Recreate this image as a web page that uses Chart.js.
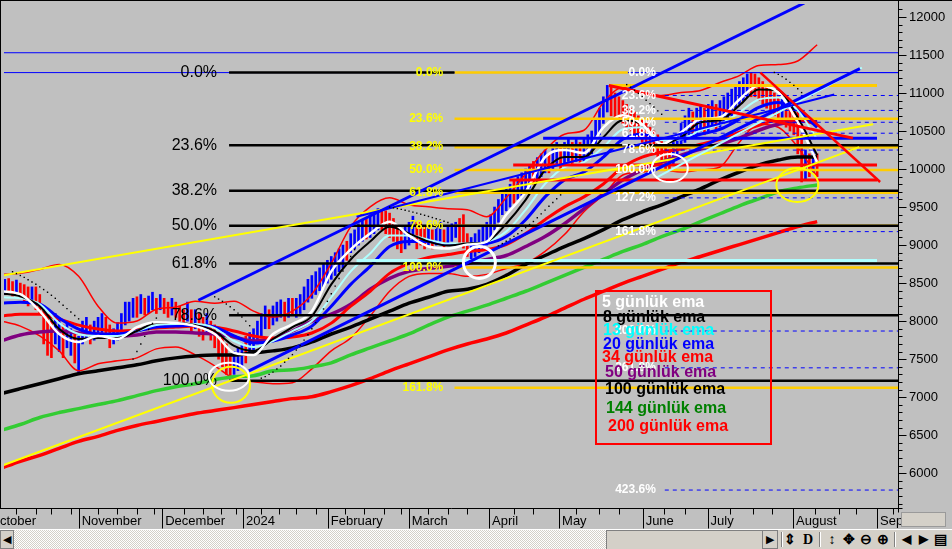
<!DOCTYPE html>
<html lang="tr">
<head>
<meta charset="UTF-8">
<title>BIST 100 - günlük ema</title>
<script src="https://cdn.jsdelivr.net/npm/chart.js@4.4.1/dist/chart.umd.min.js"></script>
<style>
  html, body { margin: 0; padding: 0; background: #c0c0c0; }
  #wrap { position: relative; width: 952px; height: 549px; overflow: hidden; background: #c0c0c0;
          font-family: "Liberation Sans", Arial, sans-serif; }
  #chart { position: absolute; left: 0; top: 0; }
  #legend { position: absolute; left: 595px; top: 290px; width: 177px; height: 155px;
            box-sizing: border-box; border: 2px solid #ff0000; }
  #legend div { position: absolute; font-weight: bold; font-size: 16px; line-height: 18px; white-space: nowrap; }
  #xbox { position: absolute; left: 901px; top: 512px; width: 45px; height: 15px; box-sizing: border-box;
          background: #d4d0c8; border: 1px solid #9a9a9a; }
  #strip { position: absolute; left: 0; top: 529px; width: 952px; height: 20px; background: #d4d0c8;
           border-top: 1px solid #ffffff; box-sizing: border-box; }
  #strip > div { position: absolute; top: 0; height: 19px; box-sizing: border-box; }
  .btn { background: #d4d0c8; border: 1px solid #808080; font-size: 11px; line-height: 17px; text-align: center; }
  #dither { background-image: repeating-conic-gradient(#ffffff 0 25%, #d4d0c8 0 50%); background-size: 2px 2px; }
  #slot { background: #d4d0c8; border-top: 1px solid #808080; border-left: 1px solid #808080; }
  #tools span { position: absolute; top: 0; width: 16px; text-align: center; font-size: 14px; line-height: 19px;
                font-weight: bold; color: #000; }
  #tools i { position: absolute; top: 2px; width: 1px; height: 15px; background: #808080; border-right: 1px solid #fff; }
</style>
</head>
<body>
<div id="wrap">
  <canvas id="chart" width="952" height="530"></canvas>
  <div id="legend">
    <div style="left:5px; top:1px; color:#ffffff">5 günlük ema</div>
    <div style="left:6px; top:16px; color:#000000">8 günlük ema</div>
    <div style="left:6px; top:29px; color:#00ffff">13 günlük ema</div>
    <div style="left:6px; top:43px; color:#0000ff">20 günlük ema</div>
    <div style="left:5px; top:56px; color:#ff0000">34 günlük ema</div>
    <div style="left:8px; top:71px; color:#800080">50 günlük ema</div>
    <div style="left:8px; top:88px; color:#000000">100 günlük ema</div>
    <div style="left:9px; top:107px; color:#008000">144 günlük ema</div>
    <div style="left:11px; top:125px; color:#ff0000">200 günlük ema</div>
  </div>
  <div id="xbox"></div>
  <div id="strip">
    <div class="btn" style="left:0; width:14px">◀</div>
    <div id="dither" style="left:14px; width:592px"></div>
    <div id="slot" style="left:606px; width:156px"></div>
    <div class="btn" style="left:762px; width:16px">▶</div>
    <div id="tools" style="left:778px; width:174px">
      <i style="left:3px"></i>
      <span style="left:4px">⇕</span>
      <span style="left:22px; font-family:'Liberation Serif', serif">D</span>
      <i style="left:41px"></i>
      <span style="left:46px">↕</span>
      <span style="left:63px">✥</span>
      <span style="left:80px">⊖</span>
      <span style="left:97px">⊕</span>
      <i style="left:116px"></i>
      <span style="left:120px; font-size:12px">◀</span>
      <span style="left:137px; font-size:12px">▶</span>
      <span style="left:154px">▤</span>
    </div>
  </div>
</div>

<script>
// x ekseni: işlem günü sırası, 0 = 1 Kasım 2023
const X_MIN = -19.2, X_MAX = 210.8;
const Y_MIN = 5543, Y_MAX = 12170;

const monthDays = [-23.6, 0, 21.5, 42.3, 64.1, 84.9, 105.6, 123.6, 145.1, 161.8, 183.8, 205.4];
const monthLabels = ['October', 'November', 'December', '2024', 'February', 'March', 'April', 'May',
  'June', 'July', 'August', 'September'];
const weekDays = [-16, -11, -7, -2, 5, 10, 15, 19.5, 27, 32, 36.5, 40.5, 47, 51.5, 56, 61, 68.5, 73.5,
  78.5, 83, 90, 95, 100, 112, 117, 128, 134, 139, 150.5, 156, 167.5, 173.5, 178.5, 189.5, 195.5, 200, 209.5];
const priceTicks = [6000, 6500, 7000, 7500, 8000, 8500, 9000, 9500, 10000, 10500, 11000, 11500, 12000];

// günlük barlar (düşük / yüksek), u = yükselen, d = düşen
const firstBarDay = -19;
const barLow = [
  8350, 8380, 8330, 8360, 8300, 8250, 8200, 8250, 8150, 8100,
  7700, 7550, 7520, 7700, 7600, 7520, 7650, 7550, 7450, 7310,
  7700, 7750, 7700, 7750, 7800, 7850, 7800, 7650, 7700, 7750,
  7850, 7950, 8000, 8050, 8050, 8100, 8080, 8100, 8150, 8100,
  8150, 8100, 8050, 8080, 8050, 8000, 7950, 8000, 7850, 7900,
  7800, 7750, 7850, 7750, 7650, 7500, 7400, 7300, 7250, 7300,
  7350, 7400, 7450, 7550, 7600, 7700, 7800, 7900, 7900, 7950,
  8000, 8050, 8000, 8050, 8080, 8050, 8100, 8150, 8250, 8300,
  8350, 8400, 8450, 8500, 8550, 8600, 8650, 8700, 8800, 8900,
  8950, 9000, 9050, 9080, 9100, 9150, 9200, 9200, 9150, 9100,
  9050, 8950, 8900, 8950, 9000, 9050, 8950, 9000, 8950, 9000,
  8950, 9000, 9050, 8950, 9000, 9050, 9100, 9000, 8960, 8850,
  8800, 8850, 8900, 8950, 9000, 9100, 9200, 9300, 9400, 9450,
  9500, 9550, 9600, 9650, 9700, 9750, 9800, 9850, 9900, 9950,
  9950, 10000, 10050, 10000, 10050, 10100, 10050, 10100, 10050, 10100,
  10150, 10200, 10300, 10450, 10600, 10750, 10700, 10650, 10650, 10600,
  10550, 10500, 10450, 10400, 10350, 10300, 10250, 10200, 10150, 10100,
  10000, 9980, 10050, 10150, 10250, 10350, 10450, 10400, 10450, 10500,
  10450, 10500, 10550, 10500, 10550, 10600, 10650, 10700, 10800, 10850,
  10900, 10950, 10950, 10950, 10900, 10850, 10800, 10750, 10700, 10650,
  10600, 10550, 10500, 10450, 10200, 9830, 9850, 9900, 9950, 9900
];
const barHigh = [
  8550, 8560, 8520, 8540, 8500, 8480, 8450, 8450, 8450, 8350,
  8150, 8050, 8000, 8100, 8050, 7950, 8000, 7900, 7850, 7800,
  8000, 8050, 7950, 8000, 8050, 8100, 8050, 7950, 7900, 7980,
  8100, 8250, 8250, 8300, 8320, 8350, 8300, 8330, 8380, 8300,
  8350, 8300, 8250, 8300, 8250, 8200, 8150, 8250, 8150, 8150,
  8100, 8050, 8100, 8000, 7950, 7850, 7800, 7700, 7550, 7600,
  7650, 7700, 7800, 7850, 7900, 8000, 8100, 8200, 8150, 8200,
  8250, 8280, 8250, 8300, 8300, 8300, 8350, 8450, 8550, 8600,
  8650, 8700, 8750, 8800, 8850, 8900, 8950, 9000, 9050, 9150,
  9200, 9280, 9330, 9350, 9400, 9450, 9480, 9470, 9450, 9420,
  9350, 9250, 9200, 9250, 9300, 9380, 9300, 9300, 9250, 9250,
  9200, 9250, 9300, 9200, 9250, 9280, 9300, 9350, 9400, 9150,
  9100, 9150, 9200, 9250, 9300, 9400, 9500, 9600, 9700, 9750,
  9800, 9850, 9900, 9950, 10000, 10050, 10100, 10150, 10200, 10250,
  10200, 10300, 10350, 10300, 10350, 10400, 10350, 10400, 10350, 10400,
  10450, 10500, 10650, 10800, 10950, 11100, 11100, 11000, 10950, 10900,
  10850, 10800, 10750, 10700, 10650, 10600, 10550, 10500, 10450, 10400,
  10300, 10250, 10350, 10450, 10600, 10700, 10800, 10750, 10800, 10850,
  10800, 10850, 10900, 10850, 10900, 10950, 11000, 11050, 11100, 11150,
  11200, 11250, 11260, 11250, 11200, 11150, 11100, 11050, 11000, 10950,
  10950, 10900, 10850, 10800, 10750, 10450, 10250, 10200, 10250, 10200
];
const barDir = 'uddudddudd' + 'ddduuduudu' + 'uuduuudduu' + 'uuuududuud' + 'uddudddudu' +
  'dduddddddu' + 'uuduuuuudu' + 'uududuuuuu' + 'uuuuuuuudu' + 'uuuduuuddd' +
  'ddduuudddu' + 'duuduuuddd' + 'uuuuuuuuuu' + 'uduuuuduuu' + 'duuduududu' +
  'uuuuuudddd' + 'dddddddddd' + 'dduuuuuduu' + 'duuduuuuuu' + 'uudddddddd' + 'udddddudud';

// üstel hareketli ortalamalar ve bantlar, 5 günde bir okunan değerler
const sampleDays = [-20, -15, -10, -5, 0, 5, 10, 15, 20, 25, 30, 35, 40, 45, 50, 55, 60, 65, 70, 75,
  80, 85, 90, 95, 100, 105, 110, 115, 120, 125, 130, 135, 140, 145, 150, 155, 160, 165, 170, 175,
  180, 185, 190];
const ema5 = [8393, 8354, 8131, 7831, 7726, 7805, 7765, 7922, 7987, 7974, 7935, 7831, 7583, 7556, 7831,
  7961, 8131, 8654, 8942, 9151, 9308, 9125, 8981, 8955, 9007, 9046, 9399, 9700, 10157, 10249, 10210,
  10549, 10706, 10588, 10327, 10484, 10654, 10680, 10915, 11098, 11007, 10615, 10092];
const ema8 = [8367, 8327, 8197, 7896, 7765, 7778, 7778, 7870, 7974, 7974, 7948, 7870, 7674, 7609, 7765,
  7922, 8066, 8484, 8811, 9046, 9242, 9151, 9046, 8994, 9020, 9046, 9281, 9595, 9987, 10157, 10157,
  10419, 10641, 10588, 10327, 10419, 10615, 10641, 10837, 11046, 11033, 10680, 10183];
const ema13 = [8314, 8301, 8223, 7974, 7831, 7805, 7805, 7870, 7948, 7961, 7961, 7909, 7739, 7661, 7739,
  7870, 8001, 8314, 8654, 8889, 9125, 9125, 9072, 9020, 9020, 9046, 9177, 9464, 9804, 10026, 10092,
  10288, 10523, 10549, 10379, 10392, 10510, 10588, 10745, 10915, 10941, 10772, 10392];
const ema20 = [8236, 8249, 8223, 8040, 7896, 7831, 7831, 7870, 7922, 7935, 7948, 7922, 7805, 7713, 7739,
  7818, 7935, 8197, 8484, 8720, 8981, 9046, 9046, 9007, 9007, 9020, 9112, 9334, 9634, 9857, 9961,
  10157, 10392, 10458, 10392, 10392, 10458, 10523, 10654, 10811, 10876, 10772, 10549];
const ema34 = [8066, 8092, 8092, 8027, 7948, 7896, 7870, 7883, 7909, 7922, 7935, 7922, 7870, 7805, 7778,
  7791, 7844, 7974, 8197, 8393, 8628, 8759, 8837, 8876, 8916, 8942, 9007, 9151, 9334, 9503, 9634,
  9804, 10026, 10157, 10223, 10262, 10327, 10392, 10484, 10575, 10641, 10641, 10588];
const ema50 = [7739, 7818, 7857, 7870, 7844, 7831, 7805, 7818, 7857, 7857, 7844, 7831, 7791, 7739, 7765,
  7870, 8001, 8092, 8223, 8419, 8563, 8654, 8693, 8720, 8759, 8811, 8863, 8981, 9112, 9281, 9477,
  9674, 9857, 9987, 10092, 10183, 10262, 10327, 10406, 10510, 10588, 10628, 10641];
const ema100 = [7047, 7112, 7177, 7243, 7308, 7347, 7386, 7426, 7478, 7517, 7543, 7556, 7556, 7583, 7609,
  7648, 7726, 7831, 7922, 8027, 8131, 8236, 8314, 8393, 8419, 8484, 8602, 8746, 8863, 8981, 9085,
  9203, 9334, 9438, 9530, 9634, 9739, 9857, 9961, 10053, 10118, 10157, 10157];
const ema144 = [6563, 6641, 6733, 6798, 6850, 6903, 6955, 7020, 7086, 7138, 7177, 7230, 7269, 7282, 7347,
  7360, 7400, 7452, 7556, 7648, 7739, 7831, 7948, 8053, 8131, 8210, 8301, 8393, 8497, 8602, 8706,
  8811, 8916, 9007, 9112, 9203, 9308, 9412, 9517, 9608, 9700, 9752, 9791];
const ema200 = [6066, 6158, 6236, 6328, 6419, 6485, 6563, 6628, 6681, 6733, 6785, 6824, 6863, 6903, 6942,
  6981, 7007, 7073, 7151, 7243, 7347, 7439, 7530, 7622, 7700, 7765, 7844, 7948, 8053, 8171, 8288,
  8393, 8497, 8589, 8680, 8772, 8850, 8929, 9007, 9085, 9164, 9242, 9308];
const bandUp = [8615, 8628, 8680, 8746, 8589, 8197, 7974, 8001, 8157, 8184, 8262, 8236, 8262, 8131, 8053,
  8131, 8354, 8759, 9242, 9503, 9621, 9530, 9503, 9477, 9464, 9373, 9621, 9935, 10249, 10458, 10510,
  10876, 11072, 11007, 10968, 11007, 11033, 11137, 11229, 11360, 11373, 11420, 11634];
const bandDown = [8001, 7935, 7805, 7609, 7347, 7439, 7478, 7517, 7635, 7661, 7556, 7413, 7243, 7203, 7177,
  7190, 7373, 7609, 7778, 8066, 8393, 8589, 8628, 8628, 8589, 8615, 8693, 8759, 8916, 9138, 9438,
  9661, 9922, 9961, 9987, 9961, 9987, 10026, 10353, 10588, 10549, 10288, 9896];

// parabolik SAR noktaları (parça başlangıç günü + değerler)
const sarStart = [-17, 14, 35, 47, 80, 108, 141, 179];
const sarVals = [
  [8650, 8625, 8600, 8575, 8545, 8515, 8485, 8450, 8415, 8380, 8340, 8300, 8255, 8210, 8165, 8120, 8075, 8030],
  [7500, 7600, 7700, 7800, 7890, 7970, 8040],
  [8320, 8290, 8260, 8225, 8190, 8150, 8105, 8055, 8000, 7940],
  [7250, 7270, 7300, 7330, 7370, 7410, 7460, 7510, 7560, 7620, 7680, 7750, 7820, 7900, 7980, 8070, 8160,
   8260, 8360, 8460, 8560, 8660, 8760, 8850, 8940],
  [9500, 9490, 9480, 9470, 9458, 9446, 9433, 9420, 9406, 9392, 9377, 9362, 9346, 9330, 9313, 9296],
  [8990, 9020, 9050, 9080, 9115, 9150, 9190, 9230, 9270, 9310, 9360, 9410, 9460, 9510, 9560, 9610, 9660],
  [11110, 11075, 11035, 10995, 10950, 10905, 10860, 10815, 10765, 10720],
  [11270, 11245, 11215, 11180, 11140, 11100, 11055, 11005]
];

// trend çizgileri [gün, değer]
const trendBlueUp = [[30.8, 8275], [186.7, 12183]];
const trendBlueLow = [[43.8, 7347], [201.0, 11320]];
const trendBlueMid = [[71.5, 9373], [194.4, 10981]];
const trendCyan = [[148.5, 9883], [201.5, 11333]];
const trendYellowUp = [[-19.5, 8602], [204.4, 10588]];
const trendYellowLow = [[-19.5, 6105], [200.8, 10288]];
const trendRedA = [[136.4, 11098], [199.2, 10406]];
const trendRedB = [[175.4, 11268], [206.2, 9830]];

// yatay seviyeler
const refLevels = [11529, 11268];
const boxLevels = [11098, 10406, 10053, 9857, 8798];
const boxFrom = [136.5, 119.5, 111.8, 110.8, 71.5];
const boxTo = 205.4;

// fibonacci setleri
const blackFibLabels = ['0.0%', '23.6%', '38.2%', '50.0%', '61.8%', '78.6%', '100.0%'];
const blackFibLevels = [11268, 10314, 9713, 9255, 8759, 8079, 7216];
const goldFibLabels = ['0.0%', '23.6%', '38.2%', '50.0%', '61.8%', '78.6%', '100.0%', '161.8%'];
const goldFibLevels = [11268, 10660, 10288, 9987, 9687, 9255, 8706, 7125];
const whiteFibLabels = ['0.0%', '23.6%', '38.2%', '50.0%', '61.8%', '78.6%', '100.0%', '127.2%', '161.8%',
  '200.0%', '261.8%', '423.6%'];
const whiteFibLevels = [11268, 10967, 10771, 10615, 10471, 10249, 9987, 9621, 9177, 7870, 7386, 5779];
const blackFibFrom = 38.7, blackZeroTo = 96.7, blackLabelDay = 35.6;
const goldFibFrom = 96.7, goldZeroTo = 141.3, goldLabelDay = 93.8;
const whiteFibFrom = 150.8, whiteLabelDay = 148.5;

// işaret halkaları
const ringDays = [103.1, 152.1, 184.9, 39.2, 38.7];
const ringVals = [8772, 10013, 9791, 7164, 7269];
const ringStyle = [
  { rx: 16, ry: 16, color: '#ffffff', w: 3 },
  { rx: 18, ry: 14, color: '#ffffff', w: 2 },
  { rx: 21, ry: 17, color: '#ffff00', w: 2 },
  { rx: 19, ry: 18, color: '#ffff00', w: 2 },
  { rx: 20, ry: 14, color: '#ffffff', w: 2 }
];

const pts = arr => arr.map(p => ({ x: p[0], y: p[1] }));
const flat = (v, a, b) => [{ x: a, y: v }, { x: b, y: v }];
const curve = vals => vals.map((v, i) => ({ x: sampleDays[i], y: v }));

function ln(data, color, width, order, dash) {
  return { type: 'line', data, borderColor: color, borderWidth: width, borderDash: dash || [],
    pointRadius: 0, fill: false, tension: 0, order, borderCapStyle: 'butt' };
}
function ema(vals, color, width, order) {
  const d = ln(curve(vals), color, width, order);
  d.cubicInterpolationMode = 'monotone';
  return d;
}

const datasets = [];

// SAR
const sarPts = [];
sarVals.forEach((seg, k) => seg.forEach((v, i) => sarPts.push({ x: sarStart[k] + i, y: v })));
datasets.push({ type: 'line', data: sarPts, showLine: false, pointRadius: 1, pointStyle: 'rect',
  pointBackgroundColor: '#000', pointBorderWidth: 0, order: 1 });

// trendler
datasets.push(ln(pts(trendRedA), '#ff0000', 3, 2));
datasets.push(ln(pts(trendRedB), '#ff0000', 2.5, 2));
datasets.push(ln(pts(trendBlueUp), '#0000ff', 3, 2));
datasets.push(ln(pts(trendBlueLow), '#0000ff', 3, 2));
datasets.push(ln(pts(trendBlueMid), '#0000ff', 2, 2));
datasets.push(ln(pts(trendCyan), '#b0ffff', 2, 2));
datasets.push(ln(pts(trendYellowUp), '#ffff00', 2, 2));
datasets.push(ln(pts(trendYellowLow), '#ffff00', 2, 2));

// kutu çizgileri
const boxColors = ['#ffcc00', '#0000ff', '#ff0000', '#ff0000', '#b0ffff'];
boxLevels.forEach((v, i) => datasets.push(ln(flat(v, boxFrom[i], boxTo), boxColors[i], 3, 3)));

// fibonacci çizgileri
blackFibLevels.forEach((v, i) =>
  datasets.push(ln(flat(v, blackFibFrom, i === 0 ? blackZeroTo : X_MAX), '#000000', 2.5, 4)));
goldFibLevels.forEach((v, i) =>
  datasets.push(ln(flat(v, goldFibFrom, i === 0 ? goldZeroTo : X_MAX), '#ffcc00', 2.5, 4)));
whiteFibLevels.forEach((v, i) => {
  const solid = whiteFibLabels[i] === '0.0%' || whiteFibLabels[i] === '100.0%';
  datasets.push(ln(flat(v, whiteFibFrom - (solid ? 2 : 0), X_MAX), '#0000ff', 1, 4, solid ? [] : [4, 4]));
});
refLevels.forEach(v => datasets.push(ln(flat(v, X_MIN, X_MAX), '#0000ff', 1, 4)));

// ortalamalar
datasets.push(ema(ema5, '#ffffff', 2.5, 5));
datasets.push(ema(ema8, '#000000', 2, 6));
datasets.push(ema(ema13, '#b0ffff', 2, 7));
datasets.push(ema(ema20, '#0000ff', 3, 8));
datasets.push(ema(ema34, '#ff0000', 3, 9));
datasets.push(ema(ema50, '#800080', 3.5, 10));
datasets.push(ema(ema100, '#000000', 3.5, 11));
datasets.push(ema(ema144, '#33cc33', 3.5, 12));
datasets.push(ema(ema200, '#ff0000', 3.5, 13));
datasets.push(ema(bandUp, '#ff0000', 1.5, 14));
datasets.push(ema(bandDown, '#ff0000', 1.5, 14));

// barlar
datasets.push({
  type: 'bar',
  data: barLow.map((lo, i) => ({ x: firstBarDay + i, y: [lo, barHigh[i]] })),
  backgroundColor: ctx => barDir[ctx.dataIndex] === 'u' ? '#0000ff' : '#ff0000',
  borderWidth: 0, barThickness: 2, grouped: false, order: 15
});

const overlay = {
  id: 'overlay',
  afterDatasetsDraw(chart) {
    const { ctx, scales: { x, y } } = chart;
    ctx.save();
    ctx.textBaseline = 'middle';
    ctx.textAlign = 'right';
    ctx.font = '16px "Liberation Sans", Arial, sans-serif';
    ctx.fillStyle = '#000';
    blackFibLabels.forEach((t, i) =>
      ctx.fillText(t, x.getPixelForValue(blackLabelDay), y.getPixelForValue(blackFibLevels[i])));
    ctx.font = 'bold 12px "Liberation Sans", Arial, sans-serif';
    ctx.fillStyle = '#ffff00';
    goldFibLabels.forEach((t, i) =>
      ctx.fillText(t, x.getPixelForValue(goldLabelDay), y.getPixelForValue(goldFibLevels[i])));
    ctx.fillStyle = '#ffffff';
    whiteFibLabels.forEach((t, i) =>
      ctx.fillText(t, x.getPixelForValue(whiteLabelDay), y.getPixelForValue(whiteFibLevels[i])));

    ringDays.forEach((d, i) => {
      const s = ringStyle[i];
      ctx.beginPath();
      ctx.ellipse(x.getPixelForValue(d), y.getPixelForValue(ringVals[i]), s.rx, s.ry, 0, 0, Math.PI * 2);
      ctx.lineWidth = s.w;
      ctx.strokeStyle = s.color;
      ctx.stroke();
    });
    ctx.restore();
  }
};

const frame = {
  id: 'frame',
  afterDraw(chart) {
    const { ctx, chartArea: a, scales: { x, y } } = chart;
    const b = a.bottom + 0.5, r = a.right + 0.5;
    ctx.save();
    ctx.strokeStyle = '#000';
    ctx.lineWidth = 1;
    ctx.beginPath();
    ctx.moveTo(0, 0.5); ctx.lineTo(chart.width, 0.5);
    ctx.moveTo(0.5, 0); ctx.lineTo(0.5, b);
    ctx.moveTo(r, 0); ctx.lineTo(r, b + 4);
    ctx.moveTo(0, b); ctx.lineTo(r + 4, b);
    weekDays.forEach(d => {
      const px = Math.round(x.getPixelForValue(d)) + 0.5;
      ctx.moveTo(px, b); ctx.lineTo(px, b + 6);
    });
    monthDays.forEach(d => {
      const px = Math.round(x.getPixelForValue(d)) + 0.5;
      if (px < a.left) return;
      ctx.moveTo(px, b); ctx.lineTo(px, b + 20);
    });
    for (let v = 5600; v <= 12100; v += 100) {
      const py = Math.round(y.getPixelForValue(v)) + 0.5;
      ctx.moveTo(r, py); ctx.lineTo(r + (v % 500 === 0 ? 8 : 4), py);
    }
    ctx.stroke();
    ctx.restore();
  }
};

Chart.defaults.font.family = '"Liberation Sans", Arial, sans-serif';
Chart.defaults.color = '#000';

new Chart(document.getElementById('chart'), {
  type: 'line',
  data: { datasets },
  options: {
    responsive: false,
    animation: false,
    devicePixelRatio: 1,
    events: [],
    layout: { padding: { left: 1, top: 1, right: 0, bottom: 0 } },
    plugins: { legend: { display: false }, tooltip: { enabled: false } },
    scales: {
      x: {
        type: 'linear', min: X_MIN, max: X_MAX, offset: false,
        grid: { display: false, drawTicks: false }, border: { display: false },
        afterBuildTicks: s => { s.ticks = monthDays.map(v => ({ value: v })); },
        afterFit: s => { s.height = 22; s.paddingLeft = 0; s.paddingRight = 0; },
        ticks: {
          autoSkip: false, maxRotation: 0, minRotation: 0, align: 'start', labelOffset: 3, padding: 6,
          color: '#000', font: { size: 13 }, callback: (v, i) => monthLabels[i]
        }
      },
      y: {
        type: 'linear', position: 'right', min: Y_MIN, max: Y_MAX,
        grid: { display: false, drawTicks: false }, border: { display: false },
        afterBuildTicks: s => { s.ticks = priceTicks.map(v => ({ value: v })); },
        afterFit: s => { s.width = 54; s.paddingTop = 0; s.paddingBottom = 0; },
        ticks: { autoSkip: false, padding: 11, color: '#000', font: { size: 13 }, callback: v => String(v) }
      }
    }
  },
  plugins: [overlay, frame]
});
</script>
</body>
</html>
